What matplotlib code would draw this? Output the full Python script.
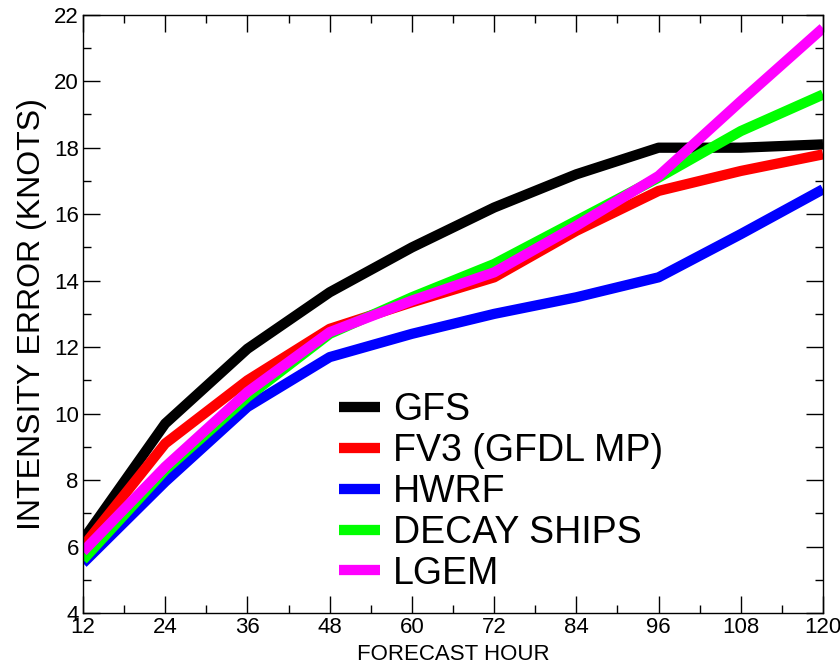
import matplotlib
matplotlib.use("Agg")
import matplotlib.pyplot as plt
from matplotlib.ticker import MultipleLocator

hours = [12, 24, 36, 48, 60, 72, 84, 96, 108, 120]

gfs = [6.2, 9.7, 11.95, 13.65, 15.0, 16.2, 17.2, 18.0, 18.0, 18.1]
fv3 = [6.0, 9.1, 11.0, 12.55, 13.35, 14.1, 15.5, 16.7, 17.3, 17.8]
hwrf = [5.5, 7.95, 10.2, 11.7, 12.4, 13.0, 13.5, 14.1, 15.4, 16.75]
ships = [5.6, 8.3, 10.5, 12.4, 13.5, 14.5, 15.8, 17.1, 18.5, 19.6]
lgem = [5.85, 8.4, 10.65, 12.45, 13.4, 14.25, 15.65, 17.15, 19.4, 21.6]

series = [
    ("GFS", gfs, "#000000"),
    ("FV3 (GFDL MP)", fv3, "#ff0000"),
    ("HWRF", hwrf, "#0000ff"),
    ("DECAY SHIPS", ships, "#00ff00"),
    ("LGEM", lgem, "#ff00ff"),
]

plt.rcParams["font.family"] = ["Liberation Sans", "DejaVu Sans"]

fig = plt.figure(figsize=(8.4, 6.7), dpi=100)
ax = fig.add_axes([0.0988, 0.085, 0.8810, 0.893])

for name, values, color in series:
    ax.plot(hours, values, color=color, linewidth=7.4, label=name,
            solid_capstyle="butt", solid_joinstyle="round")

ax.set_xlim(12, 120)
ax.set_ylim(4, 22)
ax.xaxis.set_major_locator(MultipleLocator(12))
ax.xaxis.set_minor_locator(MultipleLocator(6))
ax.yaxis.set_major_locator(MultipleLocator(2))
ax.yaxis.set_minor_locator(MultipleLocator(1))

ax.tick_params(which="both", direction="in", top=True, right=True, width=1.0)
ax.tick_params(which="major", length=12, labelsize=16, pad=3)
ax.tick_params(which="minor", length=6)
for spine in ax.spines.values():
    spine.set_linewidth(1.0)

ax.set_xlabel("FORECAST HOUR", fontsize=16, labelpad=4)
ax.set_ylabel("INTENSITY ERROR (KNOTS)", fontsize=23, labelpad=5)

leg = ax.legend(loc="lower left", bbox_to_anchor=(0.31, -0.008), frameon=False,
                fontsize=27, handlelength=1.1, handletextpad=0.35,
                labelspacing=0.13, borderaxespad=0.3)
for line in leg.get_lines():
    line.set_linewidth(7.4)

fig.savefig("out.png", dpi=100)
